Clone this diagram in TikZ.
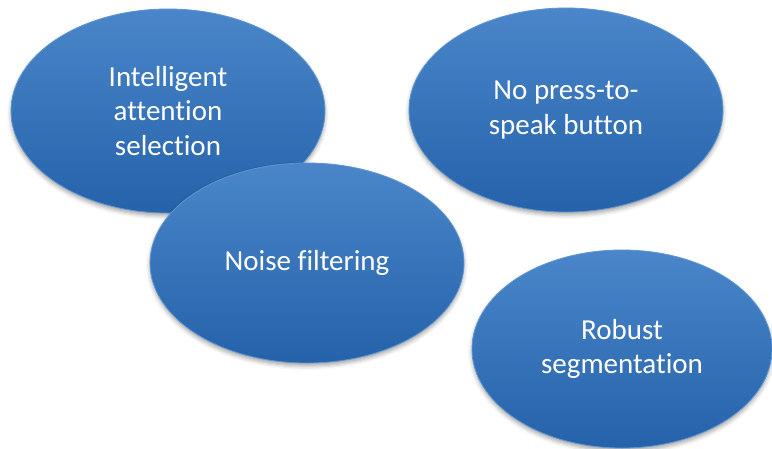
\documentclass[tikz,border=0pt]{standalone}
\usepackage{fontspec}
\setmainfont[Ligatures={NoCommon}]{Carlito}
\usetikzlibrary{shapes.geometric,shadows.blur}
\definecolor{topblue}{RGB}{74,134,201}
\definecolor{botblue}{RGB}{38,98,170}
\definecolor{rimblue}{RGB}{95,150,210}
\tikzset{
  blob/.style={ellipse, minimum width=314pt, minimum height=204pt, inner sep=0pt,
    top color=topblue, bottom color=botblue, draw=rimblue, line width=0.8pt,
    text=white, align=center, font=\fontsize{29}{34.5}\selectfont,
    blur shadow={shadow xshift=0pt, shadow yshift=-3pt, shadow blur radius=4pt, shadow opacity=35}}
}
\begin{document}
\begin{tikzpicture}[x=1pt,y=-1pt]
\useasboundingbox (0,0) rectangle (772,448);
\node[blob] (att) at (168,111) {Intelligent\\attention\\selection};
\node[blob] (press) at (566,110) {No press-to-\\speak button};
\node[blob, minimum height=200pt] (noise) at (307,263) {Noise filtering};
\node[blob, minimum width=300pt, minimum height=198pt] (seg) at (622,349) {Robust\\segmentation};
\end{tikzpicture}
\end{document}
